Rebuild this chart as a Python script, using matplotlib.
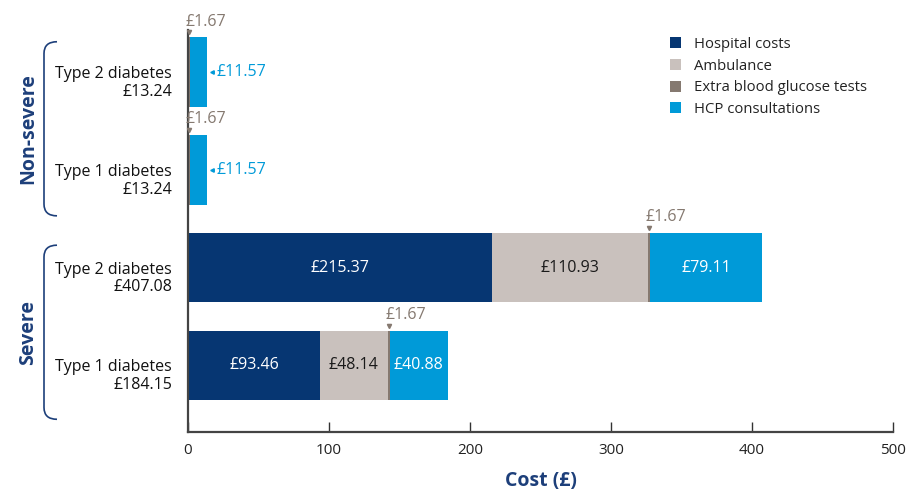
import matplotlib
matplotlib.use("Agg")
import matplotlib.pyplot as plt
from matplotlib.path import Path
from matplotlib.patches import PathPatch, Patch
from matplotlib.transforms import blended_transform_factory
import numpy as np

plt.rcParams['font.family'] = ['Open Sans', 'DejaVu Sans']

# ---- data ----
rows = ["Type 2 diabetes", "Type 1 diabetes", "Type 2 diabetes", "Type 1 diabetes"]
groups = ["Non-severe", "Non-severe", "Severe", "Severe"]
totals = ["£13.24", "£13.24", "£407.08", "£184.15"]
hospital = [0, 0, 215.37, 93.46]
ambulance = [0, 0, 110.93, 48.14]
extra_tests = [1.67, 1.67, 1.67, 1.67]
hcp = [11.57, 11.57, 79.11, 40.88]
series_names = ["Hospital costs", "Ambulance", "Extra blood glucose tests", "HCP consultations"]
xticks = [0, 100, 200, 300, 400, 500]

colors = ["#063672", "#c9c1bd", "#857970", "#009ad8"]
text_colors = ["white", "#1a1a1a", "#857970", "white"]
navy = "#1d3f7a"

fig = plt.figure(figsize=(9.09, 4.92), dpi=100)
ax = fig.add_axes([188/909, 1-432/492, (893-188)/909, (432-30)/492])

y = np.array([3, 2, 1, 0], dtype=float)
h = 0.71
series = [hospital, ambulance, extra_tests, hcp]
left = np.zeros(4)
for s, (vals, c) in enumerate(zip(series, colors)):
    vals = np.array(vals, dtype=float)
    ax.barh(y, vals, left=left, height=h, color=c, edgecolor='none', zorder=2)
    for i in range(4):
        v = vals[i]
        if v <= 0:
            continue
        label = f"£{v:.2f}"
        if s == 2:
            xm = left[i] + v / 2
            ax.plot([xm], [y[i] + h/2 + 0.05], marker='v', color=colors[2], markersize=3,
                    clip_on=False, zorder=3)
            ax.text(xm - 2.5, y[i] + h/2 + 0.08, label, color=colors[2], fontsize=11.5,
                    ha='left', va='bottom')
        elif v < 20:
            xe = left[i] + v
            ax.plot([xe + 4], [y[i]], marker='<', color=colors[3], markersize=2.5, zorder=3)
            ax.text(xe + 7, y[i], label, color=colors[3], fontsize=11.5, ha='left', va='center')
        else:
            ax.text(left[i] + v / 2, y[i], label, color=text_colors[s], fontsize=11.5,
                    ha='center', va='center', zorder=4)
    left += vals

ax.set_xlim(0, 500)
ax.set_ylim(-0.68, 3.43)
ax.set_xticks(xticks)
ax.set_xticklabels([str(t) for t in xticks], fontsize=11, color='#222222')
ax.set_yticks(y)
ax.set_yticklabels([])
ytr = ax.get_yaxis_transform()
for yi, r, t in zip(y, rows, totals):
    ax.text(-16/705, yi - 0.11, f"{r}\n{t}", transform=ytr, ha='right', va='center',
            fontsize=11.5, color='#111111', linespacing=1.15)
ax.tick_params(axis='x', direction='in', length=7, width=1, color='#333333', pad=8)
ax.tick_params(axis='y', direction='in', length=3, width=0.8, color='#555555')
for sp in ['top', 'right']:
    ax.spines[sp].set_visible(False)
for sp in ['left', 'bottom']:
    ax.spines[sp].set_color('#444444')
    ax.spines[sp].set_linewidth(1.6)

ax.set_xlabel("Cost (£)", fontsize=14, fontweight='bold', color=navy, labelpad=9)

# legend
handles = [Patch(facecolor=c, edgecolor='none') for c in colors]
leg = ax.legend(handles, series_names, loc='upper left', bbox_to_anchor=(0.683, 0.9825),
                frameon=False, fontsize=10.7, handlelength=0.75, handleheight=0.75,
                handletextpad=0.9, labelspacing=0.45, borderaxespad=0, borderpad=0)
for t in leg.get_texts():
    t.set_color('#222222')

# group brackets
tr = blended_transform_factory(fig.transFigure, ax.transData)
def bracket(y_top, y_bot):
    x0 = 57/909
    x1 = 44/909
    dy = 0.12
    verts = [(x0, y_top), (x1, y_top), (x1, y_top - dy),
             (x1, y_bot + dy),
             (x1, y_bot), (x0, y_bot)]
    codes = [Path.MOVETO, Path.CURVE3, Path.CURVE3, Path.LINETO, Path.CURVE3, Path.CURVE3]
    ax.add_patch(PathPatch(Path(verts, codes), transform=tr, fill=False,
                           edgecolor=navy, linewidth=1.2, clip_on=False))

bracket(3.31, 1.53)
bracket(1.23, -0.55)
ax.text(28/909, (3.31 + 1.53) / 2, "Non-severe", transform=tr, rotation=90, ha='center',
        va='center', fontsize=14, fontweight='bold', color=navy)
ax.text(28/909, (1.23 - 0.55) / 2, "Severe", transform=tr, rotation=90, ha='center',
        va='center', fontsize=14, fontweight='bold', color=navy)

fig.savefig("out.png", dpi=100)
